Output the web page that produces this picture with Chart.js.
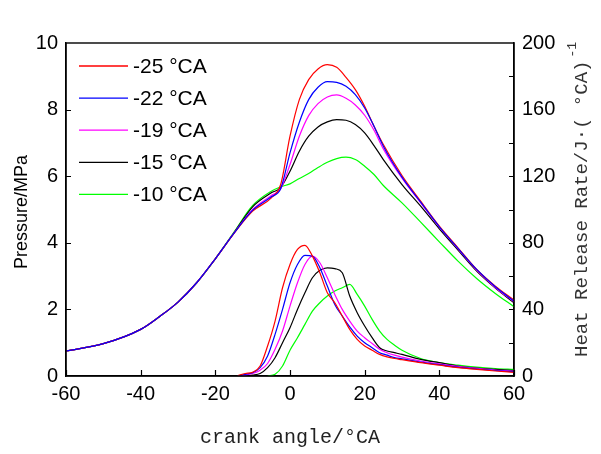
<!DOCTYPE html>
<html>
<head>
<meta charset="utf-8">
<script src="https://cdn.jsdelivr.net/npm/chart.js@4.4.0/dist/chart.umd.min.js"></script>
<style>
  html, body { margin: 0; padding: 0; background: #fff; }
</style>
</head>
<body>
<canvas id="chart" width="601" height="454"></canvas>
<script>
// crank angle grids
const angleP = [-60, -50, -40, -35, -30, -25, -20, -15, -10, -5, -2.5, 0, 2.5, 5, 7.5, 10, 12.5, 15, 17.5, 20, 22.5, 25, 30, 35, 40, 45, 50, 55, 60];
const angleH = [-16, -14, -12, -10, -8, -6, -4, -2, 0, 2, 4, 6, 8, 10, 12, 14, 16, 18, 20, 22, 24, 26, 28, 30, 35, 40, 45, 50, 55, 60];

const labels = ['-25 °CA', '-22 °CA', '-19 °CA', '-15 °CA', '-10 °CA'];
const colors = ['#ff0000', '#0000ff', '#ff00ff', '#000000', '#00ff00'];

// cylinder pressure, MPa
const p25 = [0.75, 0.97, 1.40, 1.78, 2.22, 2.80, 3.52, 4.28, 4.95, 5.35, 5.75, 7.2, 8.3, 8.9, 9.22, 9.35, 9.27, 8.97, 8.6, 8.1, 7.5, 6.95, 6.02, 5.25, 4.5, 3.85, 3.2, 2.7, 2.28];
const p22 = [0.75, 0.97, 1.40, 1.78, 2.22, 2.80, 3.52, 4.29, 4.98, 5.38, 5.62, 6.7, 7.62, 8.3, 8.67, 8.84, 8.82, 8.7, 8.45, 8.05, 7.5, 6.9, 5.97, 5.22, 4.48, 3.83, 3.2, 2.68, 2.25];
const p19 = [0.75, 0.97, 1.40, 1.78, 2.22, 2.80, 3.52, 4.29, 5.0, 5.42, 5.62, 6.35, 7.2, 7.82, 8.18, 8.38, 8.44, 8.34, 8.14, 7.83, 7.38, 6.82, 5.94, 5.2, 4.47, 3.82, 3.18, 2.66, 2.23];
const p15 = [0.75, 0.97, 1.40, 1.78, 2.22, 2.80, 3.52, 4.30, 5.08, 5.5, 5.66, 6.15, 6.75, 7.2, 7.48, 7.63, 7.7, 7.68, 7.55, 7.3, 6.92, 6.5, 5.75, 5.1, 4.42, 3.78, 3.15, 2.64, 2.2];
const p10 = [0.75, 0.97, 1.40, 1.78, 2.22, 2.80, 3.52, 4.32, 5.12, 5.55, 5.68, 5.77, 5.93, 6.08, 6.26, 6.42, 6.53, 6.57, 6.5, 6.3, 6.05, 5.72, 5.2, 4.62, 4.03, 3.45, 2.93, 2.48, 2.08];

// heat release rate, J/°CA
const h25 = [null, 0.3, 1.5, 2.3, 6, 18, 33, 53, 67, 76, 78.5, 72, 62, 50, 44, 36, 28, 22, 18, 15.5, 13, 11.5, 10.5, 9.8, 8, 6.5, 5, 4, 3, 2.2];
const h22 = [null, 0, 1, 2, 5, 12, 25, 40, 56, 67, 72.5, 72, 65, 54, 43, 36, 29.5, 24, 20, 17, 14, 12.5, 11, 10.3, 8.3, 6.8, 5.3, 4.2, 3.3, 2.6];
const h19 = [null, 0, 0.5, 1.5, 3.5, 7.5, 16, 27, 42, 56, 67, 72, 68, 59, 49, 40, 33, 27, 23, 19.5, 16, 14, 12.5, 11.3, 9, 7.3, 5.8, 4.6, 3.6, 2.9];
const h15 = [null, null, 0, 0.5, 1.5, 5, 11, 20, 29, 40, 50, 59, 63.5, 65, 64.5, 62, 48, 38, 30, 23, 17, 15, 14, 13, 10, 8, 6, 4.8, 4, 3.3];
const h10 = [null, null, null, null, null, 0, 1, 6, 15.5, 23, 31, 39, 44, 48, 51, 53, 55, 49, 42, 34, 27, 22, 18.5, 15.5, 10.5, 8, 6.5, 5.3, 4.5, 4];

const xTicks = [-60, -40, -20, 0, 20, 40, 60];

const pressure = [p25, p22, p19, p15, p10];
const heat = [h25, h22, h19, h15, h10];

const pts = (xs, ys) => xs.map((x, i) => ({ x: x, y: ys[i] }));

const datasets = [];
pressure.forEach((arr, i) => {
  datasets.push({ label: labels[i], data: pts(angleP, arr), yAxisID: 'y', borderColor: colors[i], order: i === 1 ? 0 : i + 1 });
});
heat.forEach((arr, i) => {
  datasets.push({ label: labels[i] + ' HRR', data: pts(angleH, arr), yAxisID: 'y2', borderColor: colors[i], order: i + 1 });
});
datasets.forEach(d => {
  d.borderWidth = 1.2;
  d.pointRadius = 0;
  d.fill = false;
  d.cubicInterpolationMode = 'monotone';
});

const tickFont = { family: 'Liberation Sans, Arial', size: 20 };

// frame, inward ticks, legend and axis titles
const decor = {
  id: 'decor',
  afterDraw(chart) {
    const ctx = chart.ctx;
    const a = chart.chartArea;
    const sx = chart.scales.x, sy = chart.scales.y, sy2 = chart.scales.y2;
    ctx.save();
    ctx.strokeStyle = '#000';
    ctx.lineWidth = 1.4;
    ctx.strokeRect(a.left, a.top, a.right - a.left, a.bottom - a.top);

    ctx.lineWidth = 1.2;
    ctx.beginPath();
    xTicks.forEach(v => {
      const px = Math.round(sx.getPixelForValue(v)) + 0.5;
      ctx.moveTo(px, a.bottom); ctx.lineTo(px, a.bottom - 6);
    });
    for (let v = 2; v < 10; v += 2) {
      const py = Math.round(sy.getPixelForValue(v)) + 0.5;
      ctx.moveTo(a.left, py); ctx.lineTo(a.left + 5, py);
    }
    for (let v = 20; v < 200; v += 20) {
      const py = Math.round(sy2.getPixelForValue(v)) + 0.5;
      ctx.moveTo(a.right, py); ctx.lineTo(a.right - 5, py);
    }
    ctx.stroke();

    // legend
    ctx.font = '21px Liberation Sans, Arial';
    ctx.textBaseline = 'middle';
    ctx.textAlign = 'left';
    for (let i = 0; i < 5; i++) {
      const y = 66 + i * 32.1;
      ctx.strokeStyle = colors[i];
      ctx.lineWidth = 1.3;
      ctx.beginPath();
      ctx.moveTo(79, y); ctx.lineTo(128, y);
      ctx.stroke();
      ctx.fillStyle = '#000';
      ctx.fillText(labels[i], 133, y + 1);
    }

    // left title
    ctx.fillStyle = '#000';
    ctx.font = '18px Liberation Sans, Arial';
    ctx.textAlign = 'center';
    ctx.save();
    ctx.translate(22, 212);
    ctx.rotate(-Math.PI / 2);
    ctx.fillText('Pressure/MPa', 0, 0);
    ctx.restore();

    // right title
    ctx.fillStyle = '#333';
    ctx.font = '19px Liberation Mono, Courier New, monospace';
    ctx.save();
    ctx.translate(582, 357);
    ctx.rotate(-Math.PI / 2);
    ctx.textAlign = 'left';
    const main = 'Heat Release Rate/J·( °CA)';
    ctx.fillText(main, 0, 0);
    const w = ctx.measureText(main).width;
    ctx.font = '13px Liberation Mono, Courier New, monospace';
    ctx.fillText('-1', w + 3, -9);
    ctx.restore();

    // bottom title
    ctx.fillStyle = '#222';
    ctx.font = '20px Liberation Mono, Courier New, monospace';
    ctx.textAlign = 'center';
    ctx.fillText('crank angle/°CA', 290, 438);
    ctx.restore();
  }
};

new Chart(document.getElementById('chart'), {
  type: 'line',
  data: { datasets: datasets },
  options: {
    responsive: false,
    animation: false,
    layout: { padding: { top: 43, left: 0, right: 0, bottom: 0 } },
    plugins: { legend: { display: false }, tooltip: { enabled: false } },
    scales: {
      x: {
        type: 'linear', min: -60, max: 60,
        afterBuildTicks: s => { s.ticks = xTicks.map(v => ({ value: v })); },
        afterFit: s => { s.height = 78; },
        ticks: { font: tickFont, color: '#000', padding: 6 },
        grid: { display: false, drawTicks: false },
        border: { color: '#000', width: 1.4 }
      },
      y: {
        position: 'left', min: 0, max: 10,
        afterFit: s => { s.width = 66; },
        ticks: { stepSize: 2, font: tickFont, color: '#000', padding: 8 },
        grid: { display: false, drawTicks: false },
        border: { color: '#000', width: 1.4 }
      },
      y2: {
        position: 'right', min: 0, max: 200,
        afterFit: s => { s.width = 87; },
        ticks: { stepSize: 40, font: tickFont, color: '#000', padding: 8 },
        grid: { display: false, drawTicks: false },
        border: { color: '#000', width: 1.4 }
      }
    }
  },
  plugins: [decor]
});
</script>
</body>
</html>
